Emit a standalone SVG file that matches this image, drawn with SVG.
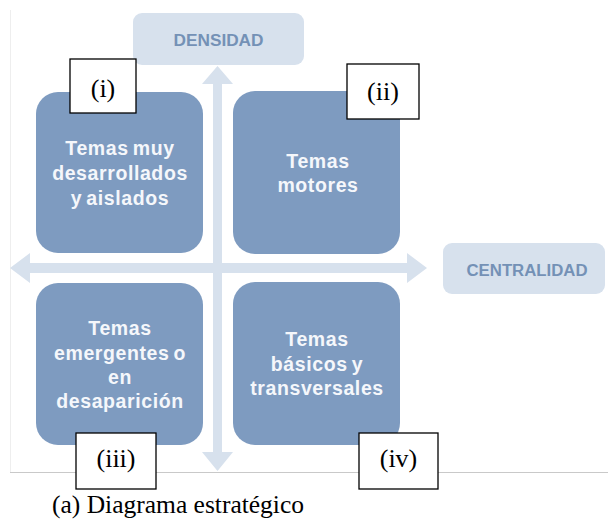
<svg xmlns="http://www.w3.org/2000/svg" width="608" height="524" viewBox="0 0 608 524">
<style>
.node{fill:#7e9bc0}
.ntxt{font-family:"Liberation Sans",Arial,sans-serif;font-weight:bold;font-size:19.5px;letter-spacing:0.6px;word-spacing:-2px;fill:#f5f7fb;text-anchor:middle}
.axisbox{fill:#d7e1ed}
.axtxt{font-family:"Liberation Sans",Arial,sans-serif;font-weight:bold;font-size:16px;fill:#7491b6;text-anchor:middle}
.lab{fill:#ffffff;stroke:#000000;stroke-width:1.3}
.labtxt{font-family:"Liberation Serif","Times New Roman",serif;font-size:26px;fill:#000000;text-anchor:middle}
.arrow{fill:#d7e1ed}
</style>
<rect width="608" height="524" fill="#ffffff"/>
<line x1="10.5" y1="10" x2="10.5" y2="472" stroke="#eeeeee" stroke-width="1"/>
<line x1="10" y1="472.5" x2="608" y2="472.5" stroke="#c9c9c9" stroke-width="1.2"/>
<g id="connectors">
<path class="arrow" d="M213,84 L202,84 L217.5,66 L233,84 L222,84 L222,452 L233,452 L217.5,471 L202,452 L213,452 Z"/>
<path class="arrow" d="M30,263 L30,253 L10,268 L30,283 L30,273 L407,273 L407,283 L427,268 L407,253 L407,263 Z"/>
</g>
<g id="densidad">
<rect class="axisbox" x="133" y="13" width="171" height="52" rx="9"/>
<text class="axtxt" x="218.5" y="45.5" textLength="90" lengthAdjust="spacingAndGlyphs">DENSIDAD</text>
</g>
<g id="centralidad">
<rect class="axisbox" x="443" y="243" width="162" height="51" rx="9"/>
<text class="axtxt" x="527" y="275.5" textLength="121" lengthAdjust="spacingAndGlyphs">CENTRALIDAD</text>
</g>
<g id="node-i">
<rect class="node" x="36" y="92" width="167" height="161" rx="22"/>
<text class="ntxt" x="120" y="155">Temas muy</text>
<text class="ntxt" x="120" y="180">desarrollados</text>
<text class="ntxt" x="120" y="205">y aislados</text>
</g>
<g id="node-ii">
<rect class="node" x="233" y="91" width="167" height="163" rx="22"/>
<text class="ntxt" x="318" y="168">Temas</text>
<text class="ntxt" x="318" y="192">motores</text>
</g>
<g id="node-iii">
<rect class="node" x="36" y="283" width="167" height="162" rx="22"/>
<text class="ntxt" x="120" y="335">Temas</text>
<text class="ntxt" x="120" y="360">emergentes o</text>
<text class="ntxt" x="120" y="384">en</text>
<text class="ntxt" x="120" y="408">desaparición</text>
</g>
<g id="node-iv">
<rect class="node" x="233" y="282" width="167" height="163" rx="22"/>
<text class="ntxt" x="317" y="346">Temas</text>
<text class="ntxt" x="317" y="371">básicos y</text>
<text class="ntxt" x="317" y="395">transversales</text>
</g>
<g id="label-i">
<rect class="lab" x="70" y="59" width="66" height="54"/>
<text class="labtxt" x="103" y="97">(i)</text>
</g>
<g id="label-ii">
<rect class="lab" x="347" y="64" width="72" height="55"/>
<text class="labtxt" x="383" y="100">(ii)</text>
</g>
<g id="label-iii">
<rect class="lab" x="76" y="433" width="80" height="56"/>
<text class="labtxt" x="116" y="467">(iii)</text>
</g>
<g id="label-iv">
<rect class="lab" x="359" y="433" width="79" height="56"/>
<text class="labtxt" x="398.5" y="467">(iv)</text>
</g>
<g id="caption">
<text x="52" y="513" font-family="'Liberation Serif','Times New Roman',serif" font-size="25.5" fill="#000000">(a) Diagrama estratégico</text>
</g>
</svg>
